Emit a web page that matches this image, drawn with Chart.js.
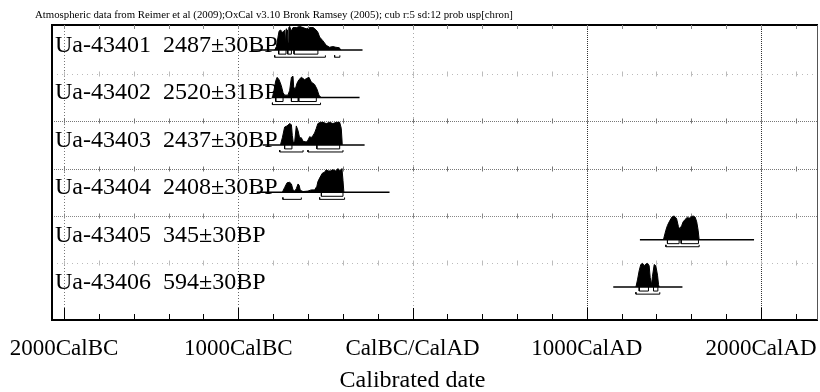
<!DOCTYPE html>
<html>
<head>
<meta charset="utf-8">
<script src="https://cdn.jsdelivr.net/npm/chart.js@4.4.1/dist/chart.umd.min.js"></script>
<style>
  html, body { margin: 0; padding: 0; background: #fff; }
  #wrap { width: 820px; height: 392px; }
</style>
</head>
<body>
<div id="wrap"><canvas id="chart" width="820" height="392"></canvas></div>
<script>
// header printed by OxCal above the plot
const titleText = "Atmospheric data from Reimer et al (2009);OxCal v3.10 Bronk Ramsey (2005); cub r:5 sd:12 prob usp[chron]";
const axisTitle = "Calibrated date";

const sampleCodes = ["Ua-43401", "Ua-43402", "Ua-43403", "Ua-43404", "Ua-43405", "Ua-43406"];
const bpDates = ["2487±30BP", "2520±31BP", "2437±30BP", "2408±30BP", "345±30BP", "594±30BP"];

// x axis, calendar years (BC negative)
const tickYears = [-2000, -1800, -1600, -1400, -1200, -1000, -800, -600, -400, -200, 0,
                   200, 400, 600, 800, 1000, 1200, 1400, 1600, 1800, 2000, 2200];
const tickLabels = { "-2000": "2000CalBC", "-1000": "1000CalBC", "0": "CalBC/CalAD", "1000": "1000CalAD", "2000": "2000CalAD" };

// calibrated probability (relative height 0..1)
const row1Years = [-791, -781, -772, -766, -758, -752, -745, -738, -733, -729, -725, -718, -714, -710, -705, -696, -686, -666, -648, -628, -610, -590, -570, -553, -543, -533, -515, -495, -476, -457, -440, -420, -412];
const row1Prob  = [0, 0.15, 0.55, 0.8, 0.85, 0.8, 0.75, 0.8, 0.85, 0.25, 0.9, 0.85, 0.3, 0.95, 1.0, 0.8, 0.95, 0.95, 1.0, 0.95, 0.9, 0.95, 0.95, 0.85, 0.75, 0.55, 0.4, 0.2, 0.12, 0.15, 0.12, 0.1, 0];
const row2Years = [-804, -795, -785, -777, -766, -753, -743, -734, -715, -705, -695, -686, -682, -676, -671, -663, -652, -638, -628, -619, -609, -594, -581, -562, -548, -537, -525];
const row2Prob  = [0, 0.3, 0.7, 0.85, 0.75, 0.5, 0.2, 0.1, 0.1, 0.3, 0.85, 0.9, 0.45, 0.35, 0.4, 0.6, 0.75, 0.85, 0.8, 0.75, 0.8, 0.85, 0.65, 0.55, 0.35, 0.1, 0];
const row3Years = [-758, -747, -734, -720, -705, -695, -690, -684, -676, -667, -657, -648, -638, -628, -609, -600, -590, -581, -571, -562, -552, -543, -529, -514, -495, -476, -457, -437, -418, -409, -403];
const row3Prob  = [0, 0.3, 0.75, 0.8, 0.9, 0.85, 0.4, 0.08, 0.15, 0.8, 0.6, 0.3, 0.3, 0.15, 0.12, 0.2, 0.35, 0.3, 0.4, 0.5, 0.7, 0.9, 0.95, 0.95, 0.9, 0.95, 0.9, 0.95, 0.95, 0.7, 0];
const row4Years = [-747, -734, -720, -705, -695, -686, -676, -667, -657, -651, -644, -628, -600, -581, -562, -549, -543, -533, -518, -504, -495, -485, -472, -457, -441, -428, -415, -405, -399, -394];
const row4Prob  = [0, 0.2, 0.4, 0.42, 0.35, 0.1, 0.05, 0.15, 0.35, 0.3, 0.08, 0.03, 0.05, 0.1, 0.1, 0.25, 0.45, 0.6, 0.8, 0.85, 0.95, 0.9, 0.9, 0.95, 0.9, 1.0, 0.9, 1.0, 0.5, 0];
const row5Years = [1440, 1454, 1463, 1473, 1488, 1501, 1515, 1526, 1534, 1545, 1553, 1564, 1578, 1587, 1597, 1610, 1622, 1631, 1639, 1645];
const row5Prob  = [0, 0.4, 0.6, 0.75, 0.95, 1.0, 0.9, 0.55, 0.45, 0.6, 0.75, 0.85, 0.95, 0.9, 0.95, 1.0, 0.95, 0.75, 0.4, 0];
const row6Years = [1282, 1291, 1301, 1310, 1320, 1330, 1339, 1349, 1358, 1364, 1372, 1377, 1387, 1396, 1406, 1412, 1415];
const row6Prob  = [0, 0.3, 0.7, 0.95, 1.0, 0.9, 0.97, 1.0, 0.9, 0.4, 0.1, 0.45, 0.95, 0.9, 0.5, 0.1, 0];

// extent of the base line drawn under each distribution
const lineExtent = [[-917, -287], [-808, -304], [-860, -275], [-894, -132], [1305, 1960], [1152, 1549]];
// 68.2% and 95.4% ranges (brackets under the curves)
const ranges68 = [
  [[-768, -726], [-716, -695], [-680, -543]],
  [[-785, -743], [-695, -657], [-653, -552]],
  [[-734, -692], [-549, -418]],
  [[-523, -399]],
  [[1463, 1530], [1542, 1641]],
  [[1301, 1354], [1383, 1408]]
];
const ranges95 = [
  [[-791, -500], [-447, -417]],
  [[-804, -528]],
  [[-762, -628], [-600, -399]],
  [[-744, -638], [-533, -390]],
  [[1454, 1645]],
  [[1282, 1419]]
];

const rowYears = [row1Years, row2Years, row3Years, row4Years, row5Years, row6Years];
const rowProb = [row1Prob, row2Prob, row3Prob, row4Prob, row5Prob, row6Prob];
const peak = 0.5;   // curve height in row units

const datasets = [];
sampleCodes.forEach((code, i) => {
  const base = sampleCodes.length - 1 - i;
  datasets.push({
    data: lineExtent[i].map(v => ({ x: v, y: base })),
    borderColor: '#000', borderWidth: 1.5, pointRadius: 0, showLine: true
  });
  datasets.push({
    data: rowYears[i].map((yr, k) => ({ x: yr, y: base + rowProb[i][k] * peak })),
    borderColor: '#000', backgroundColor: '#000', borderWidth: 1,
    pointRadius: 0, showLine: true, fill: { value: base }
  });
  ranges68[i].forEach(r => datasets.push({
    data: [{ x: r[0], y: base }, { x: r[0], y: base - 0.085 }, { x: r[1], y: base - 0.085 }, { x: r[1], y: base }],
    borderColor: '#000', borderWidth: 1, pointRadius: 0, showLine: true
  }));
  ranges95[i].forEach(r => datasets.push({
    data: [{ x: r[0], y: base - 0.11 }, { x: r[0], y: base - 0.15 }, { x: r[1], y: base - 0.15 }, { x: r[1], y: base - 0.11 }],
    borderColor: '#000', borderWidth: 1, pointRadius: 0, showLine: true
  }));
});

const vGridStyle = {
  "-2000": ['#777', [1, 2]], "-1000": ['#666', [1, 2]], "0": ['#aaa', [1, 3]],
  "1000": ['#333', [1, 1]], "2000": ['#333', [1, 1]]
};
const separators = [4.5, 3.5, 2.5, 1.5, 0.5];
const sepStyle = [['#bbb', [1, 4]], ['#777', [1, 1]], ['#777', [1, 1]], ['#888', [1, 1]], ['#bbb', [1, 4]]];

const oxcalFrame = {
  id: 'oxcalFrame',
  beforeDatasetsDraw(chart) {
    const { ctx, chartArea: a, scales: { x, y } } = chart;
    ctx.save();
    ctx.lineWidth = 1;
    // millennium grid lines
    Object.keys(vGridStyle).forEach(k => {
      const px = Math.round(x.getPixelForValue(+k)) + 0.5;
      ctx.strokeStyle = vGridStyle[k][0];
      ctx.setLineDash(vGridStyle[k][1]);
      ctx.beginPath(); ctx.moveTo(px, a.top); ctx.lineTo(px, a.bottom); ctx.stroke();
    });
    // row separators with little tick marks
    separators.forEach((s, j) => {
      const py = Math.round(y.getPixelForValue(s)) + 0.5;
      ctx.strokeStyle = sepStyle[j][0];
      ctx.setLineDash(sepStyle[j][1]);
      ctx.beginPath(); ctx.moveTo(a.left, py); ctx.lineTo(a.right, py); ctx.stroke();
      ctx.setLineDash([]);
      tickYears.forEach(t => {
        const px = Math.round(x.getPixelForValue(t)) + 0.5;
        ctx.beginPath(); ctx.moveTo(px, py - 3); ctx.lineTo(px, py + 2); ctx.stroke();
      });
    });
    ctx.restore();
  },
  afterDatasetsDraw(chart) {
    const { ctx, chartArea: a, scales: { x, y } } = chart;
    ctx.save();
    ctx.fillStyle = '#000';
    ctx.font = '10.8px "Liberation Serif"';
    ctx.textBaseline = 'middle';
    ctx.fillText(titleText, 35, 15);

    ctx.font = '24px "Liberation Serif"';
    ctx.textBaseline = 'alphabetic';
    sampleCodes.forEach((code, i) => {
      const base = sampleCodes.length - 1 - i;
      ctx.fillText(code + "  " + bpDates[i], a.left + 3, y.getPixelForValue(base) + 2);
    });

    // axis title, centred on CalBC/CalAD like the original
    ctx.textAlign = 'center';
    ctx.textBaseline = 'middle';
    ctx.fillText(axisTitle, x.getPixelForValue(0), 381);
    ctx.textAlign = 'left';

    // frame
    ctx.strokeStyle = '#000';
    ctx.lineWidth = 2;
    ctx.beginPath();
    ctx.moveTo(a.right, a.top); ctx.lineTo(a.left, a.top);
    ctx.lineTo(a.left, a.bottom); ctx.lineTo(a.right, a.bottom);
    ctx.stroke();
    ctx.lineWidth = 1;
    ctx.strokeStyle = '#555';
    ctx.beginPath(); ctx.moveTo(a.right - 0.5, a.top); ctx.lineTo(a.right - 0.5, a.bottom); ctx.stroke();

    // ticks pointing into the plot
    tickYears.forEach(t => {
      const px = Math.round(x.getPixelForValue(t)) + 0.5;
      const major = t % 1000 === 0;
      ctx.strokeStyle = '#000';
      ctx.beginPath(); ctx.moveTo(px, a.bottom); ctx.lineTo(px, a.bottom - (major ? 12 : 6)); ctx.stroke();
      ctx.strokeStyle = '#888';
      ctx.beginPath(); ctx.moveTo(px, a.top); ctx.lineTo(px, a.top + 4); ctx.stroke();
    });
    ctx.restore();
  }
};

new Chart(document.getElementById('chart'), {
  type: 'scatter',
  data: { datasets },
  options: {
    responsive: false,
    animation: false,
    events: [],
    layout: { padding: { left: 52, right: 2, top: 25, bottom: 0 } },
    plugins: { legend: { display: false }, tooltip: { enabled: false } },
    scales: {
      x: {
        type: 'linear', min: -2069, max: 2327,
        afterBuildTicks: scale => { scale.ticks = tickYears.map(v => ({ value: v })); },
        afterFit: scale => {
          scale.height = 72;
          // labels may overhang the frame, like the original
          scale.paddingLeft = 0;
          scale.paddingRight = 0;
        },
        grid: { display: false, drawTicks: false },
        border: { display: false },
        ticks: {
          autoSkip: false, maxRotation: 0, padding: 15, color: '#000',
          font: { family: 'Liberation Serif', size: 23 },
          callback: v => tickLabels[String(v)] || ''
        }
      },
      y: {
        type: 'linear', min: -0.696, max: 5.53, display: false
      }
    }
  },
  plugins: [oxcalFrame]
});
</script>
</body>
</html>
